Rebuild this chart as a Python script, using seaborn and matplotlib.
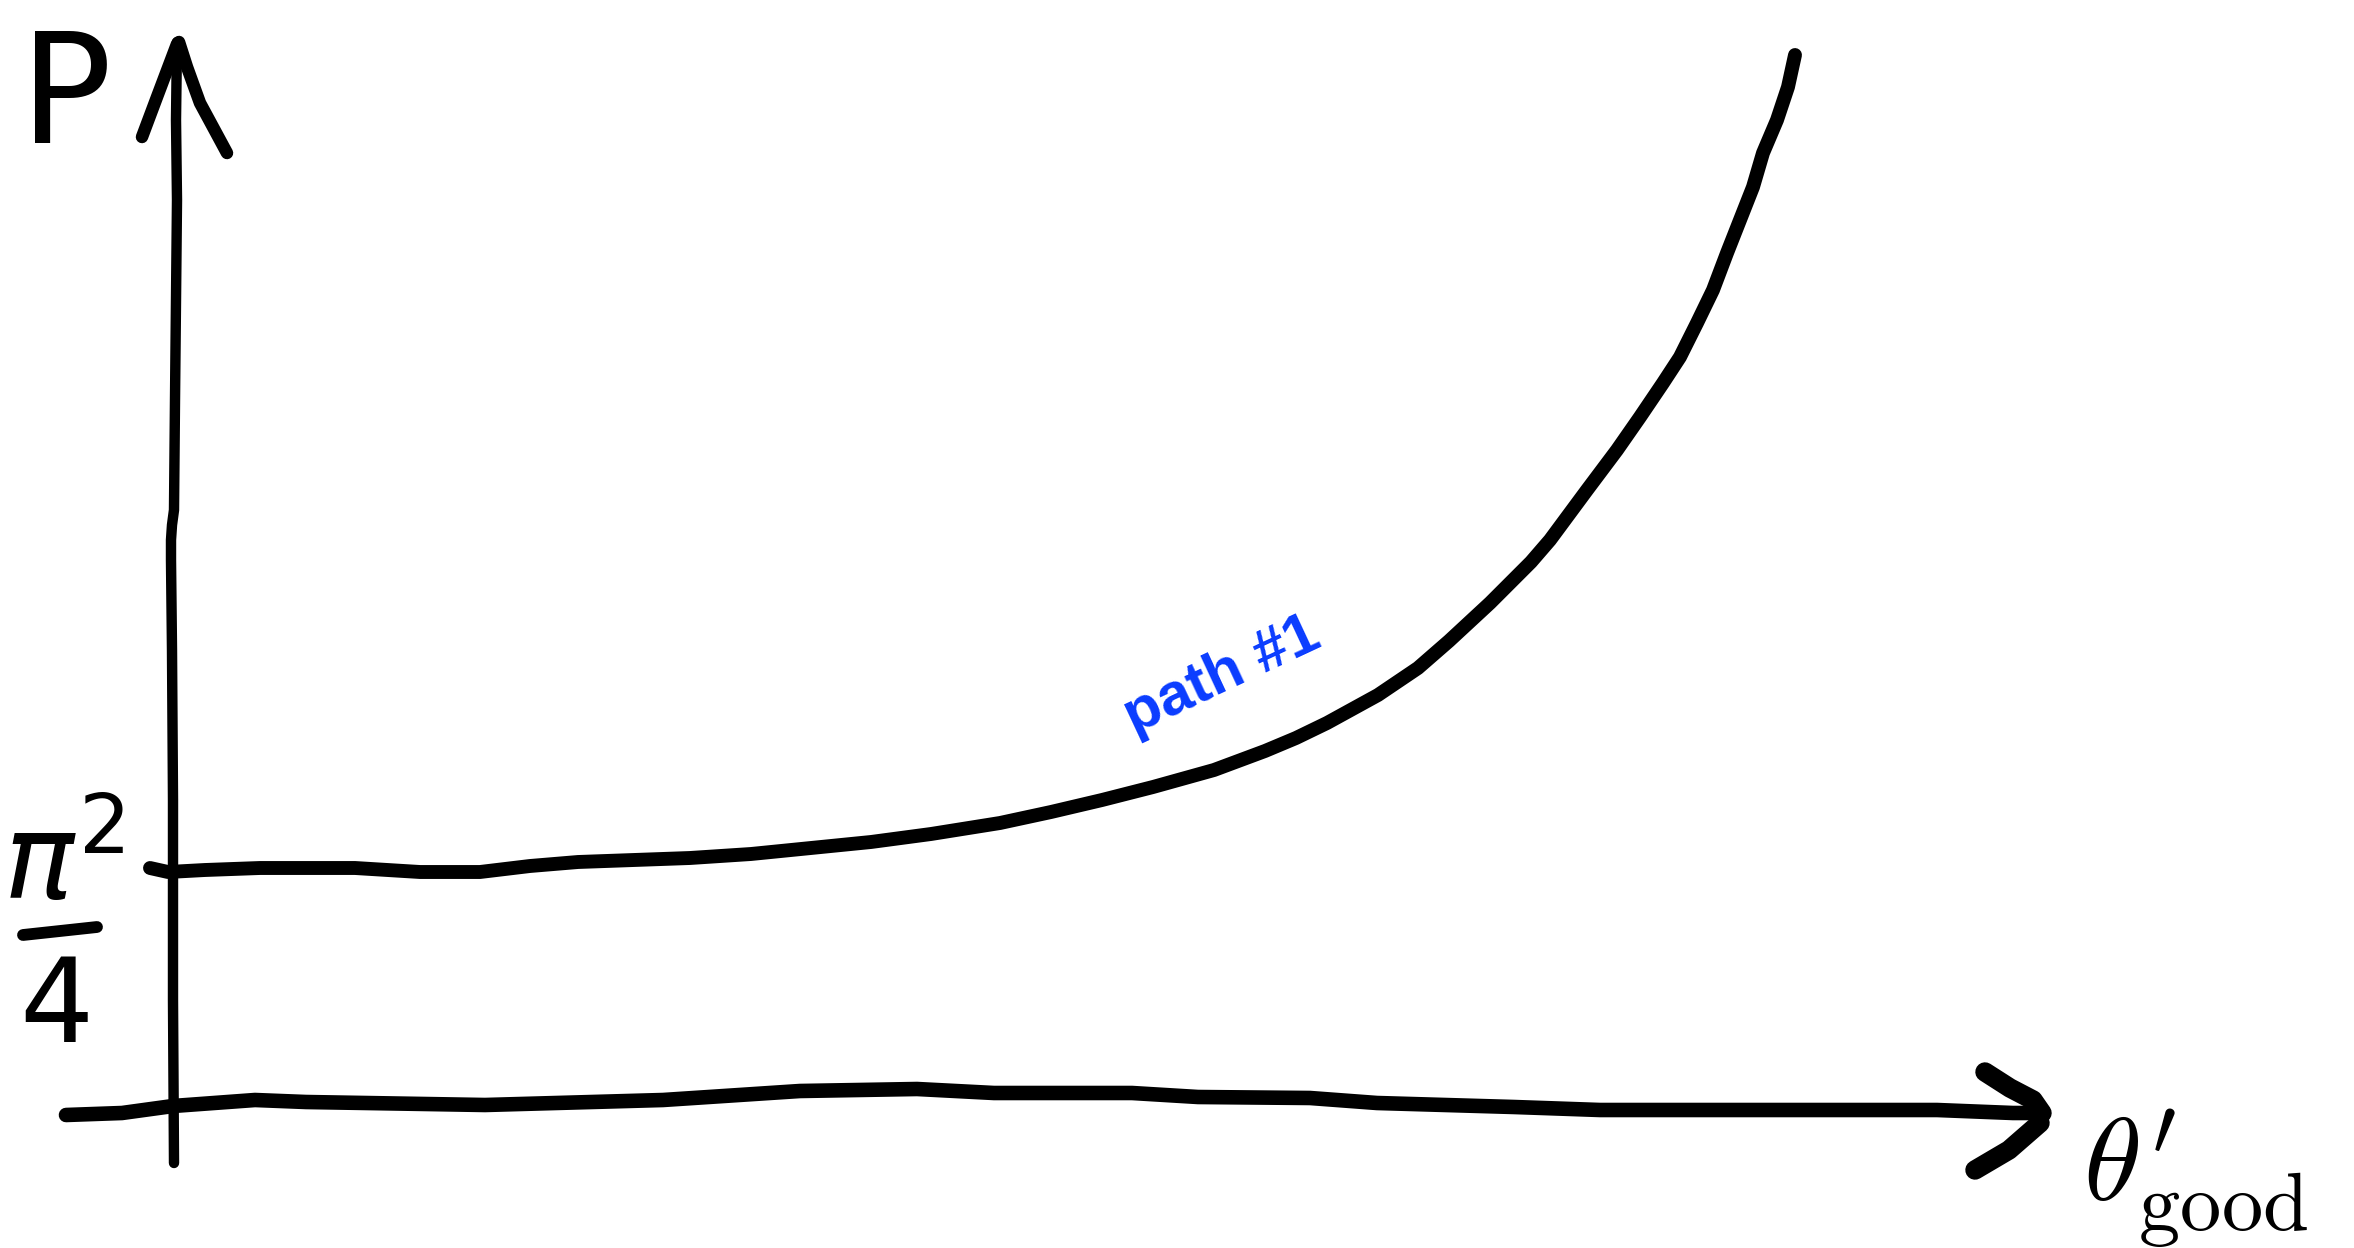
import matplotlib
matplotlib.use('Agg')
import matplotlib.pyplot as plt
import seaborn as sns

# sketch, in picture units (x to the right, y downward)
curve_x = [150, 168, 205, 260, 355, 420, 480, 530, 578, 690, 751, 811, 871, 931,
           1000, 1051, 1102, 1153, 1214, 1265, 1296, 1327, 1378, 1418, 1449, 1490,
           1531, 1550, 1587, 1617, 1640, 1663, 1680, 1697, 1713, 1727, 1740, 1753,
           1763, 1777, 1788, 1795]
curve_y = [868, 872, 870, 868, 868, 872, 872, 866, 862, 858, 854, 848, 842, 834,
           823, 812, 800, 787, 770, 751, 738, 723, 695, 668, 641, 603,
           562, 540, 490, 450, 417, 383, 357, 323, 290, 253, 220, 187,
           153, 120, 87, 55]

xaxis_x = [66, 122, 173, 255, 306, 485, 663, 800, 917, 994, 1132, 1198, 1310,
           1377, 1514, 1600, 1937, 2013, 2040]
xaxis_y = [1115, 1113, 1106, 1100, 1102, 1105, 1100, 1091, 1089, 1093, 1093, 1097,
           1098, 1103, 1107, 1110, 1110, 1113, 1113]
xhead_up_x = [1985, 2010, 2033, 2042]
xhead_up_y = [1072, 1088, 1100, 1113]
xhead_lo_x = [2040, 2009, 1975]
xhead_lo_y = [1123, 1150, 1170]

yaxis_x = [174, 173, 173, 172, 171, 171, 172, 174, 175, 176, 177, 176, 177]
yaxis_y = [1163, 1000, 800, 650, 560, 540, 525, 510, 400, 300, 200, 120, 42]
yhead_l_x = [142, 157, 177]
yhead_l_y = [137, 97, 44]
yhead_r_x = [179, 187, 200, 227]
yhead_r_y = [42, 67, 103, 153]

# the hand drawn pi^2 / 4 tick label
frac_bar_x = [23, 60, 97]
frac_bar_y = [935, 931, 927]

y_label = "P"
tick_num = r"$\pi^2$"
tick_den = "4"
x_label = r"$\theta^{\prime}_{\mathrm{good}}$"
path_label = "path #1"

sns.set_theme(style="white")
fig = plt.figure(figsize=(23.54, 12.48), dpi=100)
ax = fig.add_axes([0, 0, 1, 1])

kw = dict(color="black", solid_capstyle="round", solid_joinstyle="round",
          sort=False, estimator=None, ax=ax)
sns.lineplot(x=curve_x, y=curve_y, linewidth=10, **kw)
sns.lineplot(x=xaxis_x, y=xaxis_y, linewidth=10.5, **kw)
sns.lineplot(x=xhead_up_x, y=xhead_up_y, linewidth=14, **kw)
sns.lineplot(x=xhead_lo_x, y=xhead_lo_y, linewidth=14, **kw)
sns.lineplot(x=yaxis_x, y=yaxis_y, linewidth=7.5, **kw)
sns.lineplot(x=yhead_l_x, y=yhead_l_y, linewidth=9, **kw)
sns.lineplot(x=yhead_r_x, y=yhead_r_y, linewidth=9, **kw)
sns.lineplot(x=frac_bar_x, y=frac_bar_y, linewidth=8.5, **kw)

ax.text(66, 143, y_label, fontsize=110, ha="center", va="baseline",
        family="DejaVu Sans", color="black")
ax.text(64, 899, tick_num, fontsize=84, ha="center", va="baseline",
        math_fontfamily="dejavusans", color="black")
ax.text(56, 1042, tick_den, fontsize=84, ha="center", va="baseline",
        family="DejaVu Sans", color="black")
ax.text(2083, 1108, x_label, fontsize=85, ha="left", va="top",
        math_fontfamily="cm", color="black")
ax.text(1222, 676, path_label, fontsize=43, ha="center", va="center",
        rotation=25, rotation_mode="anchor", family="Liberation Sans",
        fontweight="bold", color="#0a3cff")

ax.set_xlim(0, 2354)
ax.set_ylim(1248, 0)
ax.axis("off")

plt.savefig("out.png", dpi=100, facecolor="white")
